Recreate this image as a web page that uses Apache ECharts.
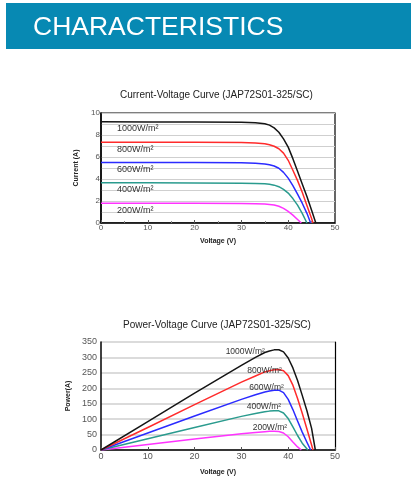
<!DOCTYPE html>
<html>
<head>
<meta charset="utf-8">
<script src="https://cdn.jsdelivr.net/npm/echarts@6/dist/echarts.min.js"></script>
<style>
html,body{margin:0;padding:0;background:#fff;}
#c{width:411px;height:484px;}
</style>
</head>
<body>
<div id="c"></div>
<script>
// ---------- data ----------
const irradiance = ['1000W/m²', '800W/m²', '600W/m²', '400W/m²', '200W/m²'];
const colors = ['#151515', '#ff2b2b', '#2b2bff', '#2a9b8e', '#ff33ff'];

// Current-Voltage curves
const ivV1000 = [0,10,20,30,33,35,36,37,38,39,40,41,42,43,44,45,45.9];
const ivI1000 = [9.2,9.19,9.18,9.16,9.12,9.03,8.9,8.65,8.25,7.65,6.9,5.85,4.7,3.55,2.4,1.15,0];
const ivV800 = [0,10,20,30,33,35,36,37,38,39,40,41,42,43,44,45,45.3];
const ivI800 = [7.35,7.34,7.33,7.31,7.27,7.2,7.12,6.98,6.75,6.35,5.7,4.8,3.85,2.8,1.6,0.4,0];
const ivV600 = [0,10,20,30,33,35,36,37,38,39,40,41,42,43,44,44.8];
const ivI600 = [5.5,5.5,5.49,5.47,5.43,5.37,5.3,5.18,4.98,4.6,4.08,3.4,2.62,1.8,0.88,0];
const ivV400 = [0,10,20,30,33,35,36,37,38,39,40,41,42,43,44];
const ivI400 = [3.65,3.65,3.64,3.62,3.6,3.56,3.52,3.44,3.3,3.06,2.72,2.22,1.62,0.88,0];
const ivV200 = [0,10,20,30,33,35,36,37,38,39,40,41,42,42.8];
const ivI200 = [1.8,1.8,1.79,1.77,1.75,1.72,1.69,1.63,1.52,1.33,1.05,0.72,0.32,0];

// Power-Voltage curves
const pvV1000 = [0,10,20,30,33,35,36,37,38,39,40,41,42,43,44,45,45.8];
const pvP1000 = [0,92,184,274,300,316,321,324.5,325,318,298,266,225,177,127,70,0];
const pvV800 = [0,10,20,30,33,35,36,37,38,39,40,41,42,43,44,45,45.3];
const pvP800 = [0,73,147,220,240,253,257,260,261,257,241,210,167,119,68,16,0];
const pvV600 = [0,10,20,30,33,35,36,37,38,39,40,41,42,43,44,44.8];
const pvP600 = [0,55,110,164,179,188,191,193.5,194,186,164,131,94,58,25,0];
const pvV400 = [0,10,20,30,33,35,36,37,38,39,40,41,42,43,44.2];
const pvP400 = [0,36.5,73,109,118,124,126,127.5,127,120,102,75,47,22,0];
const pvV200 = [0,10,20,30,33,35,36,37,38,39,40,41,42,42.8];
const pvP200 = [0,18,36,53,57,59.5,60.5,61,60,55,43,26,10,0];

const ivSets = [[ivV1000, ivI1000],[ivV800, ivI800],[ivV600, ivI600],[ivV400, ivI400],[ivV200, ivI200]];
const pvSets = [[pvV1000, pvP1000],[pvV800, pvP800],[pvV600, pvP600],[pvV400, pvP400],[pvV200, pvP200]];

// label offsets (style only)
const pvLabelOffsets = [[-14, 2], [3, 1], [5, -2], [7, -4], [13, -4]];

function zip(a, b) { return a.map((v, i) => [v, b[i]]); }
function peakIndex(arr) { let m = 0; arr.forEach((v, i) => { if (v > arr[m]) m = i; }); return m; }

const FONT = "'Liberation Sans', Arial, sans-serif";

const series = [];
ivSets.forEach((s, k) => {
  series.push({
    type: 'line', xAxisIndex: 0, yAxisIndex: 0,
    data: zip(s[0], s[1]),
    showSymbol: false, smooth: false,
    lineStyle: { color: colors[k], width: 1.5, join: 'round' },
    itemStyle: { color: colors[k] },
    silent: true, z: 5 - k,
    markPoint: {
      symbol: 'circle', symbolSize: 1,
      itemStyle: { color: 'rgba(0,0,0,0)' },
      label: { show: true, position: 'inside', align: 'left', offset: [16, 7],
               fontFamily: FONT, fontSize: 9, color: '#333', formatter: irradiance[k] },
      data: [{ coord: [s[0][0], s[1][0]] }]
    }
  });
});
pvSets.forEach((s, k) => {
  const pi = peakIndex(s[1]);
  series.push({
    type: 'line', xAxisIndex: 1, yAxisIndex: 1,
    data: zip(s[0], s[1]),
    showSymbol: false, smooth: false,
    lineStyle: { color: colors[k], width: 1.5, join: 'round' },
    itemStyle: { color: colors[k] },
    silent: true, z: 5 - k,
    markPoint: {
      symbol: 'circle', symbolSize: 1,
      itemStyle: { color: 'rgba(0,0,0,0)' },
      label: { show: true, position: 'inside', align: 'right', offset: pvLabelOffsets[k],
               fontFamily: FONT, fontSize: 8.5, color: '#333', formatter: irradiance[k] },
      data: [{ coord: [s[0][pi], s[1][pi]] }]
    }
  });
});

const chart = echarts.init(document.getElementById('c'), null, { renderer: 'canvas' });
chart.setOption({
  animation: false,
  backgroundColor: '#fff',
  textStyle: { fontFamily: FONT },
  title: [
    { text: 'Current-Voltage Curve (JAP72S01-325/SC)', left: 120, top: 90, padding: 0,
      textStyle: { fontFamily: FONT, fontSize: 10, fontWeight: 'normal', color: '#222' } },
    { text: 'Power-Voltage Curve (JAP72S01-325/SC)', left: 123, top: 320, padding: 0,
      textStyle: { fontFamily: FONT, fontSize: 10, fontWeight: 'normal', color: '#222' } }
  ],
  graphic: [
    { type: 'rect', left: 6, top: 3, shape: { width: 405, height: 46 }, style: { fill: '#0789b3' }, silent: true },
    { type: 'text', left: 33, top: 14, style: { text: 'CHARACTERISTICS', fill: '#fff', fontFamily: FONT, fontSize: 26.5 }, silent: true }
  ],
  grid: [
    { left: 101, top: 113, width: 234, height: 110, show: true, borderColor: '#000', borderWidth: 1.2 },
    { left: 101, top: 342, width: 234, height: 108 }
  ],
  xAxis: [
    { type: 'value', gridIndex: 0, min: 0, max: 50, interval: 10,
      axisLine: { lineStyle: { color: '#000', width: 1.5 } },
      axisTick: { inside: true, length: 3, lineStyle: { color: '#555' } },
      minorTick: { show: true, splitNumber: 2, length: 2, lineStyle: { color: '#888' } },
      splitLine: { show: false },
      axisLabel: { fontSize: 8, color: '#555', margin: 1 },
      name: 'Voltage (V)', nameLocation: 'middle', nameGap: 15,
      nameTextStyle: { fontSize: 7, fontWeight: 'bold', color: '#222' } },
    { type: 'value', gridIndex: 1, min: 0, max: 50, interval: 10,
      axisLine: { lineStyle: { color: '#000', width: 1.5 } },
      axisTick: { inside: true, length: 3, lineStyle: { color: '#555' } },
      splitLine: { show: false },
      axisLabel: { fontSize: 9, color: '#555', margin: 2 },
      name: 'Voltage (V)', nameLocation: 'middle', nameGap: 19,
      nameTextStyle: { fontSize: 7, fontWeight: 'bold', color: '#222' } }
  ],
  yAxis: [
    { type: 'value', gridIndex: 0, min: 0, max: 10, interval: 1,
      axisLine: { show: true, lineStyle: { color: '#000', width: 1.5 } },
      axisTick: { show: false },
      splitLine: { show: true, lineStyle: { color: '#cfcfcf', width: 1 } },
      axisLabel: { fontSize: 8, color: '#555', margin: 1,
                   formatter: v => (v % 2 === 0 ? String(v) : '') },
      name: 'Current (A)', nameLocation: 'middle', nameGap: 21,
      nameTextStyle: { fontSize: 7, fontWeight: 'bold', color: '#222' } },
    { type: 'value', gridIndex: 1, min: 0, max: 350, interval: 50,
      axisLine: { show: true, lineStyle: { color: '#000', width: 1.5 } },
      axisTick: { show: false },
      splitLine: { show: true, lineStyle: { color: '#cfcfcf', width: 1.5 } },
      axisLabel: { fontSize: 9, color: '#555', margin: 4 },
      name: 'Power(A)', nameLocation: 'middle', nameGap: 22,
      nameTextStyle: { fontSize: 7, fontWeight: 'bold', color: '#222' } },
    { type: 'value', gridIndex: 1, position: 'right', min: 0, max: 350, interval: 50,
      axisLine: { show: true, lineStyle: { color: '#000', width: 1.2 } },
      axisTick: { show: false }, axisLabel: { show: false }, splitLine: { show: false } }
  ],
  series: series
});
</script>
</body>
</html>
